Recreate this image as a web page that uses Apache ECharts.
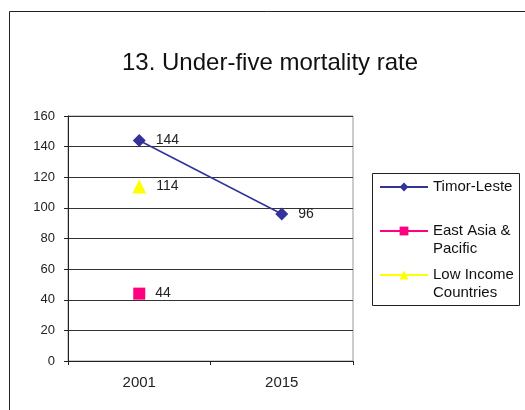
<!DOCTYPE html>
<html>
<head>
<meta charset="utf-8">
<script src="https://cdn.jsdelivr.net/npm/echarts@6/dist/echarts.min.js"></script>
<style>
  html, body { margin: 0; padding: 0; background: #fff; }
  #main { width: 525px; height: 410px; }
</style>
</head>
<body>
<div id="main"></div>
<script>
// chart data
const years = ["2001", "2015"];
const timorLeste = [144, 96];
const eastAsia = [44, null];
const lowIncome = [114, null];
const yTicks = { min: 0, max: 160, step: 20 };

const font = "Liberation Sans, Arial, sans-serif";
const chart = echarts.init(document.getElementById("main"));

const labelStyle = {
  show: true,
  position: "right",
  distance: 10,
  color: "#222",
  fontSize: 14,
  fontFamily: font
};

// one legend per series so each can sit where it does in the picture.
// legend text is centred on the icon, so two-line names get an empty
// first line: the icon then lines up with the first real line
function legendAt(name, top) {
  return {
    data: [name],
    left: 379,
    top: top,
    orient: "vertical",
    itemWidth: 48,
    itemHeight: 11,
    itemGap: 0,
    padding: 0,
    selectedMode: false,
    formatter: function (n) {
      return n.indexOf("\n") >= 0 ? " \n" + n : n;
    },
    textStyle: { fontSize: 15, fontFamily: font, color: "#111", lineHeight: 18 }
  };
}

const option = {
  animation: false,
  backgroundColor: "#fff",
  title: {
    text: "13. Under-five mortality rate",
    left: 117,
    top: 46,
    textStyle: { fontSize: 24, fontWeight: "normal", fontFamily: font, color: "#111" }
  },
  graphic: [
    // outer frame
    { type: "rect", shape: { x: 9.5, y: 11.5, width: 600, height: 500 },
      style: { fill: "none", stroke: "#222", lineWidth: 1 } },
    // legend box
    { type: "rect", shape: { x: 372.5, y: 173.5, width: 147, height: 132 },
      style: { fill: "none", stroke: "#222", lineWidth: 1 } }
  ],
  legend: [
    legendAt("Timor-Leste", 178),
    legendAt("East Asia &\nPacific", 204),
    legendAt("Low Income\nCountries", 248)
  ],
  grid: {
    left: 68, right: 172, top: 116, bottom: 49,
    show: true, borderColor: "#999", borderWidth: 1, backgroundColor: "#fff"
  },
  xAxis: {
    type: "category",
    data: years,
    boundaryGap: true,
    axisLine: { lineStyle: { color: "#222" } },
    axisTick: { show: true, inside: false, length: 4, lineStyle: { color: "#222" } },
    axisLabel: { margin: 14, fontSize: 15, fontFamily: font, color: "#222" }
  },
  yAxis: {
    type: "value",
    min: yTicks.min,
    max: yTicks.max,
    interval: yTicks.step,
    axisLine: { show: true, lineStyle: { color: "#222" } },
    axisTick: { show: true, inside: false, length: 4, lineStyle: { color: "#222" } },
    axisLabel: { margin: 13, fontSize: 13, fontFamily: font, color: "#222" },
    splitLine: { show: true, lineStyle: { color: "#333", width: 1 } }
  },
  series: [
    {
      name: "Timor-Leste",
      type: "line",
      data: timorLeste,
      symbol: "diamond",
      symbolSize: 13,
      color: "#333399",
      lineStyle: { color: "#333399", width: 1.5 },
      label: labelStyle
    },
    {
      name: "East Asia &\nPacific",
      type: "line",
      data: eastAsia,
      symbol: "rect",
      symbolSize: 12,
      color: "#FF0080",
      lineStyle: { color: "#FF0080", width: 2 },
      label: labelStyle
    },
    {
      name: "Low Income\nCountries",
      type: "line",
      data: lowIncome,
      symbol: "triangle",
      symbolSize: 14,
      color: "#FFFF00",
      lineStyle: { color: "#FFFF00", width: 2 },
      label: labelStyle
    }
  ]
};

chart.setOption(option);
</script>
</body>
</html>
